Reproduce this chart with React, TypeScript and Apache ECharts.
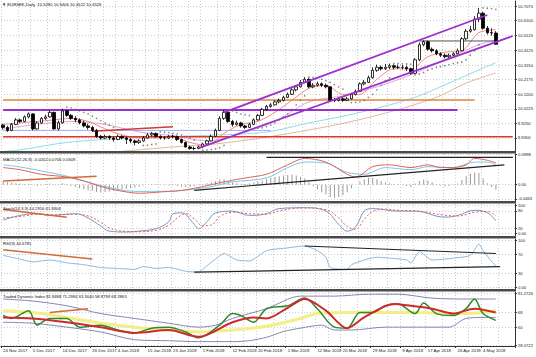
import React, { useEffect, useRef } from "react";
import * as echarts from "echarts";

const MONTHS = ["Jan", "Feb", "Mar", "Apr", "May", "Jun", "Jul", "Aug", "Sep", "Oct", "Nov", "Dec"];
const FIRST_DAY = "2017-11-24";
const LAST_DAY = "2018-05-15";
const CLOSED_DAYS = ["2017-12-25", "2018-01-01"];

const TICK_LABELS = [
  "24 Nov 2017", "5 Dec 2017", "14 Dec 2017", "26 Dec 2017", "4 Jan 2018", "15 Jan 2018",
  "23 Jan 2018", "1 Feb 2018", "12 Feb 2018", "20 Feb 2018", "1 Mar 2018", "12 Mar 2018",
  "20 Mar 2018", "29 Mar 2018", "9 Apr 2018", "17 Apr 2018", "26 Apr 2018", "4 May 2018",
];

const OPEN = [
  9.915, 9.9, 9.88, 9.92, 9.95, 9.94, 9.97, 9.99, 9.89, 9.93,
  9.96, 9.97, 10.0, 9.89, 9.93, 10.01, 9.98, 9.96, 9.95, 9.93,
  9.91, 9.9, 9.88, 9.84, 9.83, 9.84, 9.83, 9.82, 9.84, 9.83,
  9.82, 9.81, 9.8, 9.81, 9.83, 9.85, 9.86, 9.84, 9.83, 9.83,
  9.84, 9.84, 9.82, 9.8, 9.77, 9.76, 9.76, 9.77, 9.79, 9.81,
  9.84, 9.88, 9.96, 10.0, 9.94, 9.92, 9.93, 9.91, 9.9, 9.92,
  9.95, 9.98, 10.02, 10.04, 10.05, 10.07, 10.08, 10.1, 10.12, 10.15,
  10.17, 10.2, 10.22, 10.17, 10.18, 10.19, 10.18, 10.17, 10.08, 10.08,
  10.09, 10.08, 10.09, 10.12, 10.14, 10.19, 10.2, 10.23, 10.28, 10.3,
  10.29, 10.3, 10.31, 10.3, 10.3, 10.3, 10.29, 10.26, 10.35, 10.45,
  10.47, 10.42, 10.41, 10.39, 10.38, 10.37, 10.38, 10.39, 10.41, 10.49,
  10.54, 10.55, 10.62, 10.66, 10.56, 10.53, 10.528,
];
const CLOSE = [
  9.9, 9.88, 9.92, 9.95, 9.94, 9.97, 9.99, 9.89, 9.93, 9.96,
  9.97, 10.0, 9.89, 9.93, 10.01, 9.98, 9.96, 9.95, 9.93, 9.91,
  9.9, 9.88, 9.84, 9.83, 9.84, 9.83, 9.82, 9.84, 9.83, 9.82,
  9.81, 9.8, 9.81, 9.83, 9.85, 9.86, 9.84, 9.83, 9.83, 9.84,
  9.84, 9.82, 9.8, 9.77, 9.76, 9.76, 9.77, 9.79, 9.81, 9.84,
  9.88, 9.96, 10.0, 9.94, 9.92, 9.93, 9.91, 9.9, 9.92, 9.95,
  9.98, 10.02, 10.04, 10.05, 10.07, 10.08, 10.1, 10.12, 10.15, 10.17,
  10.2, 10.22, 10.17, 10.18, 10.19, 10.18, 10.17, 10.08, 10.08, 10.09,
  10.08, 10.09, 10.12, 10.14, 10.19, 10.2, 10.23, 10.28, 10.3, 10.29,
  10.3, 10.31, 10.3, 10.3, 10.3, 10.29, 10.26, 10.35, 10.45, 10.47,
  10.42, 10.41, 10.39, 10.38, 10.37, 10.38, 10.39, 10.41, 10.49, 10.54,
  10.55, 10.62, 10.66, 10.56, 10.53, 10.528, 10.4526,
];
const LOW = [
  9.885, 9.87, 9.875, 9.915, 9.93, 9.935, 9.96, 9.88, 9.885, 9.925,
  9.95, 9.965, 9.885, 9.88, 9.925, 9.97, 9.95, 9.935, 9.92, 9.9,
  9.885, 9.87, 9.83, 9.82, 9.822, 9.818, 9.805, 9.815, 9.82, 9.79,
  9.795, 9.78, 9.79, 9.805, 9.825, 9.84, 9.832, 9.82, 9.818, 9.822,
  9.828, 9.81, 9.792, 9.765, 9.752, 9.748, 9.755, 9.762, 9.782, 9.805,
  9.835, 9.875, 9.95, 9.93, 9.905, 9.912, 9.898, 9.89, 9.895, 9.915,
  9.945, 9.975, 10.01, 10.03, 10.045, 10.06, 10.072, 10.095, 10.115, 10.14,
  10.165, 10.195, 10.16, 10.16, 10.172, 10.168, 10.16, 10.07, 10.068, 10.072,
  10.07, 10.075, 10.085, 10.112, 10.135, 10.18, 10.195, 10.225, 10.27, 10.278,
  10.282, 10.288, 10.285, 10.288, 10.285, 10.275, 10.25, 10.255, 10.34, 10.44,
  10.41, 10.398, 10.38, 10.368, 10.36, 10.362, 10.375, 10.385, 10.405, 10.48,
  10.53, 10.545, 10.6, 10.55, 10.518, 10.51, 10.4522,
];
const HIGH = [
  9.925, 9.91, 9.93, 9.962, 9.958, 9.98, 10.0, 9.995, 9.94, 9.968,
  9.985, 10.012, 10.005, 9.945, 10.025, 10.015, 9.99, 9.975, 9.96, 9.945,
  9.925, 9.91, 9.89, 9.85, 9.852, 9.848, 9.838, 9.852, 9.848, 9.838,
  9.83, 9.82, 9.822, 9.842, 9.862, 9.87, 9.866, 9.848, 9.842, 9.85,
  9.852, 9.846, 9.826, 9.806, 9.778, 9.772, 9.78, 9.798, 9.818, 9.852,
  9.892, 9.975, 10.015, 10.005, 9.95, 9.945, 9.938, 9.918, 9.93, 9.96,
  9.99, 10.03, 10.05, 10.062, 10.08, 10.092, 10.11, 10.132, 10.162, 10.182,
  10.215, 10.235, 10.228, 10.195, 10.205, 10.2, 10.192, 10.175, 10.095, 10.102,
  10.1, 10.102, 10.13, 10.152, 10.2, 10.215, 10.245, 10.3, 10.318, 10.312,
  10.322, 10.325, 10.32, 10.318, 10.315, 10.31, 10.298, 10.36, 10.465, 10.48,
  10.478, 10.432, 10.42, 10.4, 10.392, 10.392, 10.4, 10.425, 10.5, 10.555,
  10.575, 10.64, 10.695, 10.67, 10.575, 10.56, 10.5406,
];

// moving averages on the price pane: [bar index, value]
const MA_CYAN = [[0, 9.74], [4, 9.75], [15, 9.8], [30, 9.83], [46, 9.845], [62, 9.869], [72, 9.93], [81, 9.98], [89, 10.035], [97, 10.1], [105, 10.195], [113, 10.295], [116, 10.33]];
const MA_TAN = [[0, 9.66], [20, 9.72], [40, 9.77], [50, 9.79], [62, 9.835], [78, 9.915], [90, 9.995], [102, 10.1], [109, 10.195], [116, 10.262]];
const MA_LAVENDER = [[0, 9.89], [8, 9.92], [16, 9.94], [24, 9.92], [32, 9.87], [40, 9.845], [48, 9.81], [56, 9.86], [64, 9.94], [72, 10.07], [80, 10.11], [88, 10.17], [96, 10.25], [104, 10.35], [112, 10.45], [116, 10.48]];
const MA_SALMON = [[0, 9.92], [4, 9.93], [8, 9.94], [12, 9.95], [16, 9.96], [20, 9.94], [24, 9.89], [28, 9.85], [32, 9.83], [36, 9.83], [40, 9.835], [44, 9.8], [48, 9.78], [52, 9.86], [56, 9.92], [60, 9.94], [64, 10.0], [68, 10.08], [72, 10.16], [76, 10.18], [80, 10.12], [84, 10.12], [88, 10.22], [92, 10.29], [96, 10.29], [100, 10.37], [104, 10.4], [108, 10.41], [112, 10.53], [116, 10.55]];

const SAR = [
  [15, 10.035], [16, 10.03], [17, 10.02], [18, 10.01], [19, 10.0], [20, 9.99], [21, 9.975], [22, 9.96], [23, 9.945], [24, 9.93], [25, 9.915], [26, 9.9],
  [33, 9.78], [34, 9.782], [35, 9.786], [36, 9.79],
  [37, 9.87], [38, 9.868], [39, 9.865], [40, 9.86], [41, 9.857], [42, 9.85], [43, 9.84], [44, 9.83], [45, 9.815],
  [47, 9.748], [48, 9.75], [49, 9.752], [50, 9.757], [51, 9.765], [52, 9.78],
  [53, 10.015], [54, 10.01], [55, 10.0], [56, 9.99], [57, 9.985], [58, 9.98],
  [60, 9.895], [61, 9.898], [62, 9.905], [63, 9.915], [64, 9.93], [65, 9.95], [66, 9.97], [67, 9.99], [68, 10.02], [69, 10.05], [70, 10.08], [71, 10.11],
  [72, 10.235], [73, 10.232], [74, 10.228], [75, 10.22], [76, 10.21], [77, 10.2], [78, 10.185], [79, 10.17], [80, 10.155],
  [82, 10.065], [83, 10.067], [84, 10.07], [85, 10.08], [86, 10.1], [87, 10.12], [88, 10.15], [89, 10.18], [90, 10.21], [91, 10.23],
  [92, 10.325], [93, 10.325], [94, 10.323], [95, 10.322], [96, 10.32],
  [97, 10.25], [98, 10.255], [99, 10.265], [100, 10.28], [101, 10.29], [102, 10.3], [103, 10.305], [104, 10.31], [105, 10.318], [106, 10.325], [107, 10.33], [108, 10.335], [109, 10.35], [110, 10.38], [111, 10.41], [112, 10.45],
  [113, 10.695], [114, 10.693], [115, 10.69], [116, 10.685],
];

// drawn objects on the price pane
const CHANNEL_UP = [[52, 10.0], [114, 10.648]];
const CHANNEL_DOWN = [[46, 9.762], [120, 10.508]];
const LEVEL_PURPLE = [[0, 10.015], [107, 10.015]];
const LEVEL_ORANGE = [[0, 10.082], [111, 10.082]];
const LEVEL_RED = [[0, 9.838], [120, 9.838]];
const LEVEL_GREY = [[98, 10.475], [116, 10.475]];
const LEVEL_LAVENDER = [[0, 9.88], [63, 9.88]];
const TREND_RED = [[21, 9.875], [40, 9.905]];
const LAST_PRICE = 10.4526;
const PRICE_TICKS = [10.7075, 10.61, 10.5125, 10.4125, 10.315, 10.2175, 10.12, 10.0225, 9.925, 9.83];

// MACD pane
const MACD_MAIN = [[0, 0.056], [4, 0.049], [9, 0.034], [15, 0.025], [19, 0.012], [23, -0.006], [27, -0.019], [32, -0.028], [39, -0.022], [42, -0.019], [45, -0.012], [48, -0.003], [53, 0.012], [57, 0.022], [62, 0.034], [67, 0.065], [71, 0.086], [76, 0.074], [81, 0.034], [83, 0.025], [87, 0.059], [91, 0.065], [96, 0.056], [100, 0.065], [103, 0.056], [106, 0.056], [109, 0.065], [111, 0.086], [114, 0.08], [116, 0.071]];
const MACD_SIGNAL = [[0, 0.065], [4, 0.058], [9, 0.045], [15, 0.028], [23, -0.003], [31, -0.022], [39, -0.022], [42, -0.019], [48, -0.009], [54, 0.009], [62, 0.022], [67, 0.056], [71, 0.074], [76, 0.071], [81, 0.04], [85, 0.034], [90, 0.056], [96, 0.049], [100, 0.059], [106, 0.056], [111, 0.074], [114, 0.074], [116, 0.065]];
const MACD_HIST = [
  0.01, 0.008, 0.006, 0.005, 0.004, 0.002, 0.003, -0.002, -0.004, -0.003,
  0.002, 0.004, -0.003, -0.002, 0.005, 0.002, -0.004, -0.008, -0.012, -0.015,
  -0.018, -0.02, -0.024, -0.026, -0.024, -0.022, -0.02, -0.018, -0.016, -0.014,
  -0.012, -0.01, -0.006, -0.003, 0.0, 0.002, 0.001, -0.001, -0.002, -0.003,
  -0.002, -0.004, -0.006, -0.008, -0.007, -0.005, -0.002, 0.002, 0.005, 0.008,
  0.012, 0.016, 0.018, 0.012, 0.008, 0.005, 0.003, 0.002, 0.004, 0.007,
  0.01, 0.014, 0.018, 0.022, 0.026, 0.028, 0.03, 0.032, 0.033, 0.03,
  0.026, 0.02, 0.008, -0.005, -0.015, -0.025, -0.032, -0.04, -0.043, -0.04,
  -0.035, -0.025, -0.012, 0.0, 0.01, 0.018, 0.023, 0.022, 0.018, 0.012,
  0.008, 0.005, 0.003, 0.002, -0.002, -0.004, -0.008, 0.004, 0.012, 0.017,
  0.014, 0.008, 0.002, -0.003, -0.005, -0.004, -0.002, 0.004, 0.015, 0.028,
  0.036, 0.04, 0.038, 0.02, 0.005, -0.008, -0.017,
];
const MACD_TREND_BLACK = [[45, -0.0185], [118, 0.0648]];
const MACD_TREND_ORANGE = [[0, 0.0123], [22, 0.0278]];
const MACD_LEVEL = [[62, 0.0895], [120, 0.0895]];
const MACD_TICKS = [0.0988, 0, -0.0463];

// Stochastic pane
const STOCH_K = [[0, 48], [4, 64], [8, 70], [11, 64], [17, 70], [20, 55], [23, 27], [25, 9], [29, 6], [32, 9], [36, 18], [39, 42], [40, 70], [42, 73], [45, 33], [46, 18], [48, 42], [50, 73], [54, 79], [58, 64], [62, 70], [65, 88], [71, 91], [76, 79], [79, 33], [81, 9], [83, 24], [85, 79], [87, 88], [93, 79], [97, 79], [104, 58], [107, 64], [111, 82], [114, 73], [116, 45]];
const STOCH_D = [[0, 55], [4, 60], [8, 68], [12, 66], [17, 68], [20, 62], [23, 40], [25, 20], [29, 8], [32, 7], [36, 12], [39, 30], [41, 55], [43, 70], [45, 52], [47, 28], [49, 30], [51, 60], [54, 75], [58, 70], [62, 68], [65, 80], [68, 88], [71, 90], [76, 84], [79, 55], [81, 25], [83, 16], [85, 50], [87, 78], [90, 86], [93, 82], [97, 80], [104, 65], [107, 62], [111, 75], [114, 78], [116, 62]];
const STOCH_TREND = [[0, 85], [15, 58]];
const STOCH_TICKS = [100, 80, 20, 0];

// RSI pane
const RSI = [[0, 68], [3, 62], [7, 54], [11, 58], [15, 52], [19, 48], [23, 42], [27, 40], [31, 38], [33, 44], [36, 40], [39, 42], [43, 34], [46, 32], [48, 46], [50, 60], [52, 72], [55, 58], [58, 56], [62, 78], [67, 84], [71, 88], [74, 78], [76, 64], [77, 42], [81, 38], [82, 48], [85, 58], [88, 64], [91, 62], [95, 58], [96, 52], [98, 76], [101, 58], [106, 62], [110, 68], [112, 92], [113, 78], [115, 55], [116, 45]];
const RSI_TREND_TOP = [[71, 88], [116, 72]];
const RSI_TREND_BOTTOM = [[45, 32], [117, 44]];
const RSI_TREND_ORANGE = [[0, 80], [21, 60]];
const RSI_TICKS = [100, 70, 30, 0];

// Traders Dynamic Index pane
const TDI_UPPER = [[0, 84.3], [7, 81.9], [15, 76.1], [23, 66.7], [31, 60.8], [39, 55.0], [46, 50.3], [50, 52.7], [54, 60.8], [62, 72.6], [70, 87.8], [78, 87.8], [86, 90.1], [93, 90.1], [101, 85.4], [109, 84.3], [116, 84.3]];
const TDI_LOWER = [[0, 56.2], [7, 55.0], [15, 50.3], [23, 44.5], [31, 35.1], [39, 33.9], [46, 32.8], [54, 32.8], [58, 34], [62, 38], [66, 45], [70, 49.1], [75, 52.7], [78, 46.8], [82, 46.8], [90, 50.3], [97, 50.3], [105, 50.3], [109, 60.8], [113, 62.0], [116, 62.0]];
const TDI_BASE = [[0, 70.2], [7, 67.9], [15, 62.0], [23, 55.0], [31, 50.3], [39, 46.8], [46, 44.5], [54, 46.8], [62, 51.5], [70, 60.8], [74, 66.7], [82, 67.9], [90, 67.9], [97, 67.9], [105, 66.7], [109, 66.7], [116, 70.2]];
const TDI_SIGNAL = [[0, 62.0], [7, 60.8], [15, 56.2], [23, 50.3], [31, 43.3], [39, 46.8], [46, 38.6], [54, 56.2], [59, 62.0], [62, 60.8], [67, 73.7], [71, 84.3], [76, 70.2], [81, 49.1], [85, 62.0], [92, 78.4], [96, 76.1], [101, 72.6], [106, 66.7], [111, 72.6], [116, 67.9]];
const TDI_PRICE = [[0, 64.4], [2, 60.8], [6, 70.2], [8, 52.7], [11, 60.8], [15, 60.8], [18, 50.3], [23, 52.7], [27, 46.8], [31, 43.3], [35, 49.1], [39, 50.3], [43, 44.5], [46, 37.4], [51, 52.7], [54, 66.7], [56, 64.4], [59, 56.2], [62, 72.6], [67, 76.1], [71, 85.4], [74, 72.6], [78, 50.3], [81, 49.1], [84, 67.9], [87, 67.9], [90, 76.1], [93, 78.4], [97, 66.7], [99, 79.6], [102, 66.7], [106, 64.4], [109, 72.6], [111, 84.3], [113, 66.7], [116, 58.5]];
const TDI_TREND = [[11, 67.9], [20, 72.6]];
const TDI_TICKS = [91.2726, 68, 50, 28.0722];

const FONT = "Liberation Sans";
const SMALL = 4.2;

function buildDates(): string[] {
  const out: string[] = [];
  const d = new Date(FIRST_DAY + "T00:00:00Z");
  const end = new Date(LAST_DAY + "T00:00:00Z");
  while (d <= end) {
    const iso = d.toISOString().slice(0, 10);
    const wd = d.getUTCDay();
    if (wd !== 0 && wd !== 6 && CLOSED_DAYS.indexOf(iso) < 0) {
      out.push(`${d.getUTCDate()} ${MONTHS[d.getUTCMonth()]} ${d.getUTCFullYear()}`);
    }
    d.setUTCDate(d.getUTCDate() + 1);
  }
  return out;
}

function buildOption() {
  const dates = buildDates();
  const tickIdx = TICK_LABELS.map((t) => dates.indexOf(t));
  const tickSet = new Set(tickIdx);
  const gridSet = new Set<number>();
  tickIdx.forEach((v, k) => {
    gridSet.add(v);
    if (k + 1 < tickIdx.length) gridSet.add(Math.round((v + tickIdx[k + 1]) / 2));
  });
  gridSet.add(tickIdx[tickIdx.length - 1] + 4);

  const panes = [
    { top: 1, height: 150 },
    { top: 154, height: 47 },
    { top: 204, height: 32 },
    { top: 239, height: 50 },
    { top: 292, height: 54 },
  ];
  const grid = panes.map((p) => ({ left: 1, right: 21, top: p.top, height: p.height }));

  const gridLine = { show: true, lineStyle: { color: "#cccccc", type: [1, 2] as any, width: 1 } };

  const xAxis = panes.map((_, k) => ({
    type: "category",
    gridIndex: k,
    data: dates,
    boundaryGap: true,
    axisLine: { show: k === 4, lineStyle: { color: "#333" } },
    axisTick: { show: k === 4, interval: (i: number) => tickSet.has(i), length: 2, lineStyle: { color: "#333" } },
    axisLabel: {
      show: k === 4,
      interval: (i: number) => tickSet.has(i),
      fontSize: 4.3,
      fontFamily: FONT,
      color: "#222",
      align: "left",
      margin: 2,
    },
    splitLine: { ...gridLine, interval: (i: number) => gridSet.has(i) },
  }));

  const fmt = (v: number) => {
    if (v === 0) return "0.00";
    if (Number.isInteger(v)) return String(v);
    return v.toFixed(4);
  };

  // axis extents leave a little room so the end labels sit inside each pane
  const yDefs = [
    { min: 9.743, max: 10.741, ticks: PRICE_TICKS },
    { min: -0.0535, max: 0.1005, ticks: MACD_TICKS },
    { min: -8, max: 104, ticks: STOCH_TICKS },
    { min: -4, max: 103, ticks: RSI_TICKS },
    { min: 27.5, max: 92.8, ticks: TDI_TICKS },
  ];
  const yAxis = yDefs.map((d, k) => ({
    type: "value",
    gridIndex: k,
    position: "right",
    min: d.min,
    max: d.max,
    axisLine: { show: true, lineStyle: { color: "#333" } },
    axisTick: { show: true, length: 2, customValues: d.ticks, lineStyle: { color: "#333" } },
    axisLabel: {
      customValues: d.ticks,
      formatter: fmt,
      fontSize: SMALL,
      fontFamily: FONT,
      color: "#222",
      margin: 3,
      showMinLabel: true,
      showMaxLabel: true,
    },
    splitLine: gridLine,
  }));

  const line = (data: number[][], pane: number, color: string, width: number, extra: any = {}) => ({
    type: "line",
    xAxisIndex: pane,
    yAxisIndex: pane,
    data,
    symbol: "none",
    showSymbol: false,
    silent: true,
    lineStyle: { color, width, ...(extra.lineStyle || {}) },
    z: extra.z ?? 3,
    smooth: extra.smooth ?? false,
  });

  const series: any[] = [
    // price pane
    line(MA_TAN, 0, "#dcb99c", 1, { smooth: 0.3 }),
    line(MA_CYAN, 0, "#8fdce6", 1, { smooth: 0.3 }),
    line(MA_LAVENDER, 0, "#d9a7d9", 1, { smooth: 0.3 }),
    line(MA_SALMON, 0, "#f08c7a", 1, { smooth: 0.3 }),
    line(LEVEL_RED, 0, "#e0352b", 1.5),
    line(LEVEL_ORANGE, 0, "#e0843c", 1.5),
    line(LEVEL_PURPLE, 0, "#9b2fd0", 2),
    line(LEVEL_LAVENDER, 0, "#a9a9f0", 1),
    line(LEVEL_GREY, 0, "#555555", 1),
    line(TREND_RED, 0, "#d23a3a", 1.5),
    {
      type: "candlestick",
      xAxisIndex: 0,
      yAxisIndex: 0,
      data: OPEN.map((o, i) => [o, CLOSE[i], LOW[i], HIGH[i]]),
      barWidth: 3,
      silent: true,
      z: 4,
      itemStyle: { color: "#ffffff", color0: "#000000", borderColor: "#000000", borderColor0: "#000000", borderWidth: 0.8 },
      markLine: {
        silent: true,
        symbol: "none",
        lineStyle: { opacity: 0 },
        label: {
          show: true,
          position: "end",
          distance: 2,
          formatter: LAST_PRICE.toFixed(4),
          backgroundColor: "#000",
          color: "#fff",
          fontSize: SMALL,
          fontFamily: FONT,
          padding: [1, 2],
        },
        data: [{ yAxis: LAST_PRICE }],
      },
    },
    line(CHANNEL_UP, 0, "#9b2fd0", 1.8, { z: 5 }),
    line(CHANNEL_DOWN, 0, "#9b2fd0", 1.8, { z: 5 }),
    {
      type: "scatter",
      xAxisIndex: 0,
      yAxisIndex: 0,
      data: SAR,
      symbolSize: 1.6,
      silent: true,
      itemStyle: { color: "#666" },
      z: 5,
    },
    // MACD pane
    {
      type: "bar",
      xAxisIndex: 1,
      yAxisIndex: 1,
      data: MACD_HIST,
      barWidth: 1,
      silent: true,
      itemStyle: { color: "#9a9a9a" },
    },
    line(MACD_SIGNAL, 1, "#77c9e6", 1, { smooth: 0.3 }),
    line(MACD_MAIN, 1, "#e0605a", 1, { smooth: 0.3 }),
    line(MACD_TREND_BLACK, 1, "#222", 1.2),
    line(MACD_TREND_ORANGE, 1, "#d2693c", 1.5),
    line(MACD_LEVEL, 1, "#222", 1.2),
    // Stochastic pane
    line(STOCH_K, 2, "#7b95c2", 1, { smooth: 0.4 }),
    line(STOCH_D, 2, "#e0605a", 1, { smooth: 0.4, lineStyle: { type: [2, 2] } }),
    line(STOCH_TREND, 2, "#d2693c", 1.5),
    // RSI pane
    line(RSI, 3, "#8ab8e0", 1, { smooth: 0.2 }),
    line(RSI_TREND_TOP, 3, "#222", 1.2),
    line(RSI_TREND_BOTTOM, 3, "#222", 1.2),
    line(RSI_TREND_ORANGE, 3, "#d2693c", 1.5),
    // TDI pane
    line(TDI_UPPER, 4, "#8585b8", 1, { smooth: 0.3 }),
    line(TDI_LOWER, 4, "#8585b8", 1, { smooth: 0.3 }),
    line(TDI_BASE, 4, "#f3ef86", 3, { smooth: 0.3 }),
    line(TDI_PRICE, 4, "#2e8a2e", 1.5, { smooth: 0.3, z: 4 }),
    line(TDI_SIGNAL, 4, "#cc2b2b", 2, { smooth: 0.3, z: 5 }),
    line(TDI_TREND, 4, "#d2693c", 1.5, { z: 6 }),
  ];

  const sepStyle = { fill: "#4a4a4a" };
  const headerStyle = (text: string) => ({ text, fontSize: SMALL, fontFamily: FONT, fill: "#111" });
  const graphic = [
    { type: "rect", shape: { x: 0, y: 151, width: 516, height: 2.5 }, style: sepStyle, z: 10 },
    { type: "rect", shape: { x: 0, y: 201, width: 516, height: 2.5 }, style: sepStyle, z: 10 },
    { type: "rect", shape: { x: 0, y: 236, width: 516, height: 2.5 }, style: sepStyle, z: 10 },
    { type: "rect", shape: { x: 0, y: 289, width: 516, height: 2.5 }, style: sepStyle, z: 10 },
    { type: "text", x: 2, y: 2, style: headerStyle("\u25BC EURSEK,Daily  10.5280 10.5406 10.4522 10.4526"), z: 10 },
    { type: "text", x: 3, y: 157, style: headerStyle("MACD(12,26,9) -0.0202 0.0706 0.0509"), z: 10 },
    { type: "text", x: 3, y: 206, style: headerStyle("Stoch(14,3,3) 44.2916 61.8306"), z: 10 },
    { type: "text", x: 3, y: 241, style: headerStyle("RSI(9) 44.6781"), z: 10 },
    { type: "text", x: 3, y: 294, style: headerStyle("Traded Dynamic Index 81.8488 71.2984 63.3040 58.8759 68.2863"), z: 10 },
  ];

  return {
    animation: false,
    backgroundColor: "#ffffff",
    grid,
    xAxis,
    yAxis,
    series,
    graphic,
  };
}

export default function App() {
  const ref = useRef<HTMLDivElement>(null);
  useEffect(() => {
    if (!ref.current) return;
    const chart = echarts.init(ref.current, null, { renderer: "svg" });
    chart.setOption(buildOption() as any);
    return () => chart.dispose();
  }, []);
  return (
    <div
      ref={ref}
      style={{ position: "fixed", left: 0, top: 0, width: 536, height: 357, background: "#fff" }}
    />
  );
}
